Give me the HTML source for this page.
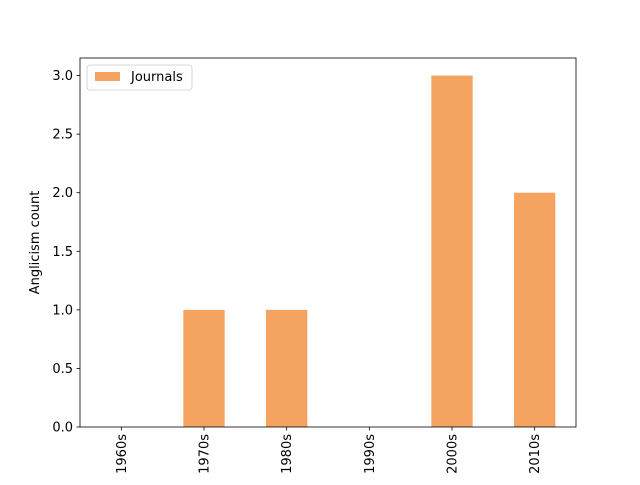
<!DOCTYPE html>
<html><head><meta charset="utf-8"><style>
body{margin:0;background:#fff}
svg text{font-family:"DejaVu Sans","Liberation Sans",sans-serif;font-size:13px;fill:#000}
</style></head><body>
<svg id="chart" width="640" height="480">
<rect x="0" y="0" width="640" height="480" fill="#fff"/>
<g id="bars"></g>
<g id="axes"></g>
</svg>
<script>
const categories=["1960s","1970s","1980s","1990s","2000s","2010s"];
const journals=[0,1,1,0,3,2];
const yTicks=[0,0.5,1,1.5,2,2.5,3];
const yTickLabels=["0.0","0.5","1.0","1.5","2.0","2.5","3.0"];
const L=80,R=576,T=58,B=427,ymax=3.15;
const ns="http://www.w3.org/2000/svg";
const xs=i=>L+(i+0.5)*(R-L)/categories.length;
const ys=v=>B-v/ymax*(B-T);
const bw=0.5*(R-L)/categories.length;
function mk(t,a,p){const e=document.createElementNS(ns,t);for(const k in a)e.setAttribute(k,a[k]);p.appendChild(e);return e;}
const bars=document.getElementById('bars'),ax=document.getElementById('axes');
journals.forEach((v,i)=>{const r=mk('rect',{x:xs(i)-bw/2,y:ys(v),width:bw,height:B-ys(v),fill:'#f4a460'},bars);

});
const f=mk('rect',{x:L,y:T,width:R-L,height:B-T,fill:'none',stroke:'#000','stroke-width':0.8},ax);


yTicks.forEach((v,i)=>{const y=ys(v);mk('line',{x1:L-3.5,x2:L,y1:y,y2:y,stroke:'#000','stroke-width':0.8},ax);
const t=mk('text',{x:L-7,y:y+4.5,'text-anchor':'end'},ax);t.textContent=yTickLabels[i];

});
categories.forEach((c,i)=>{const x=xs(i);mk('line',{x1:x,x2:x,y1:B,y2:B+3.5,stroke:'#000','stroke-width':0.8},ax);
const t=mk('text',{x:0,y:0,'text-anchor':'end',transform:`translate(${x+4.5},${B+7}) rotate(-90)`},ax);t.textContent=c;

});
const yl=mk('text',{x:0,y:0,'text-anchor':'middle',transform:`translate(39,${(T+B)/2}) rotate(-90)`},ax);yl.textContent="Anglicism count";


const lg=mk('g',{},ax);


mk('rect',{x:87,y:65,width:105,height:25,rx:3,fill:'#fff',stroke:'#ccc','stroke-width':0.8},lg);
mk('rect',{x:95,y:72,width:25,height:9,fill:'#f4a460'},lg);
const lt=mk('text',{x:131,y:81},lg);lt.textContent="Journals";


</script>
</body></html>
